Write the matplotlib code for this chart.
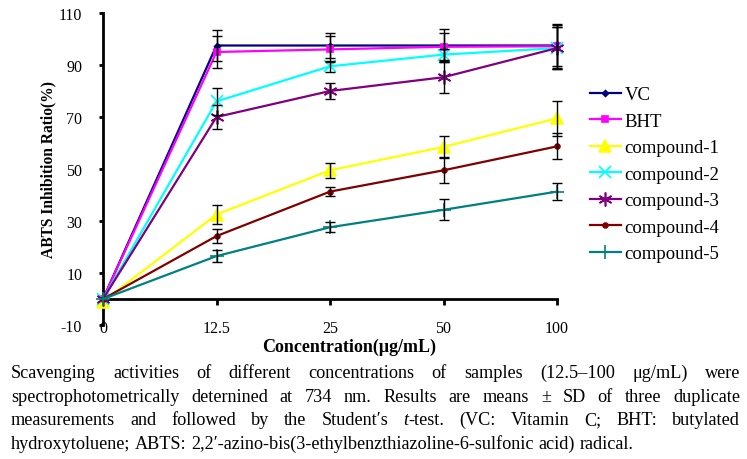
import matplotlib
matplotlib.use('Agg')
import matplotlib.pyplot as plt

plt.rcParams['font.family'] = ['Liberation Serif', 'DejaVu Serif']
plt.rcParams['axes.unicode_minus'] = False

# concentrations (categorical x axis)
conc_labels = ['0', '12.5', '25', '50', '100']

names = ['VC', 'BHT', 'compound-1', 'compound-2', 'compound-3', 'compound-4', 'compound-5']

vc = [0, 97.5, 97.5, 97.5, 97.5]
vc_sd = [0, 5.8, 4.7, 6.2, 8.0]
bht = [0, 95.0, 96.0, 97.0, 97.2]
bht_sd = [0, 6.0, 5.0, 5.5, 8.5]
c1 = [-1, 32.5, 49.5, 58.5, 69.5]
c1_sd = [0, 3.5, 2.8, 4.3, 6.7]
c2 = [0, 76.0, 89.5, 94.0, 96.5]
c2_sd = [0, 5.3, 2.0, 2.0, 8.0]
c3 = [0, 70.0, 80.0, 85.3, 96.5]
c3_sd = [0, 4.7, 3.0, 6.0, 8.0]
c4 = [0, 24.2, 41.3, 49.5, 58.7]
c4_sd = [0, 2.8, 1.8, 5.0, 5.0]
c5 = [0, 16.5, 27.6, 34.3, 41.3]
c5_sd = [0, 2.3, 1.9, 4.1, 3.4]

values = [vc, bht, c1, c2, c3, c4, c5]
errors = [vc_sd, bht_sd, c1_sd, c2_sd, c3_sd, c4_sd, c5_sd]
colors = ['#000080', '#FF00FF', '#FFFF00', '#00FFFF', '#800080', '#800000', '#008080']
markers = ['D', 's', '^', 'x', (6, 2, 0), 'o', '+']
msizes = [3, 4.5, 9, 9, 10, 3.5, 10]

fig = plt.figure(figsize=(7.47, 4.6), dpi=100)
ax = fig.add_axes([103 / 747, 1 - 326 / 460, 454 / 747, 312 / 460])

x = list(range(len(conc_labels)))
for i in range(len(names)):
    ax.plot(x, values[i], color=colors[i], marker=markers[i], markersize=msizes[i],
            markeredgewidth=1.2, linewidth=1.6, label=names[i], clip_on=False, zorder=3)
for i in range(len(names)):
    ax.errorbar(x[1:], values[i][1:], yerr=errors[i][1:], fmt='none', ecolor='black',
                elinewidth=1.0, capsize=3.5, capthick=1.0, zorder=4, clip_on=False)

ax.set_xlim(0, 4)
ax.set_ylim(-10, 110)
ax.set_yticks(range(-10, 111, 20))
ax.set_xticks(x)
ax.set_xticklabels(conc_labels)

ax.spines['top'].set_visible(False)
ax.spines['right'].set_visible(False)
ax.spines['bottom'].set_position(('data', 0))
ax.spines['left'].set_linewidth(2)
ax.spines['bottom'].set_linewidth(2)
ax.tick_params(axis='y', direction='out', length=3, width=2, pad=12, labelsize=11.5)
ax.tick_params(axis='x', direction='out', length=4, width=2, pad=11, labelsize=11.5)

ax.set_ylabel('ABTS Inhibition Ratio(%)', fontsize=11.2, fontweight='bold', labelpad=2)
fig.text(349 / 747, 1 - 347 / 460, 'Concentration(μg/mL)', fontsize=13,
         fontweight='bold', ha='center', va='center')

ax.legend(loc='upper left', bbox_to_anchor=(590 / 747, 1 - 87 / 460),
          bbox_transform=fig.transFigure, frameon=False, fontsize=13.5,
          handlelength=1.65, handletextpad=0.2, labelspacing=0.5, borderpad=0,
          borderaxespad=0)

# justified caption
lines = [
    [[('Scavenging', 'normal')], [('activities', 'normal')], [('of', 'normal')],
     [('different', 'normal')], [('concentrations', 'normal')], [('of', 'normal')],
     [('samples', 'normal')], [('(12.5–100', 'normal')], [('μg/mL)', 'normal')],
     [('were', 'normal')]],
    [[('spectrophotometrically', 'normal')], [('deternined', 'normal')], [('at', 'normal')],
     [('734', 'normal')], [('nm.', 'normal')], [('Results', 'normal')], [('are', 'normal')],
     [('means', 'normal')], [('±', 'normal')], [('SD', 'normal')], [('of', 'normal')],
     [('three', 'normal')], [('duplicate', 'normal')]],
    [[('measurements', 'normal')], [('and', 'normal')], [('followed', 'normal')],
     [('by', 'normal')], [('the', 'normal')], [('Student′s', 'normal')],
     [('t', 'italic'), ('-test.', 'normal')], [('(VC:', 'normal')], [('Vitamin', 'normal')],
     [('C;', 'normal')], [('BHT:', 'normal')], [('butylated', 'normal')]],
    [[('hydroxytoluene;', 'normal')], [('ABTS:', 'normal')],
     [('2,2′-azino-bis(3-ethylbenzthiazoline-6-sulfonic', 'normal')], [('acid)', 'normal')],
     [('radical.', 'normal')]],
]

fig.canvas.draw()
renderer = fig.canvas.get_renderer()


def text_width(s, style, fs):
    t = fig.text(0, 0, s, fontsize=fs, style=style)
    w = t.get_window_extent(renderer).width
    t.remove()
    return w


# font size chosen so the last (unjustified) line spans like the original
last = ' '.join(''.join(seg[0] for seg in w) for w in lines[3])
fs = 11.0 * 625 / text_width(last, 'normal', 11.0)
space = text_width('a a', 'normal', fs) - text_width('aa', 'normal', fs)

left_px, right_px = 11, 740
baselines = [378, 401.7, 425.4, 449]
W = fig.bbox.width
H = fig.bbox.height
for li, words in enumerate(lines):
    widths = [sum(text_width(s, st, fs) for s, st in w) for w in words]
    if li < len(lines) - 1:
        gap = (right_px - left_px - sum(widths)) / (len(words) - 1)
    else:
        gap = space
    xpos = left_px
    for w, ww in zip(words, widths):
        xx = xpos
        for s, st in w:
            fig.text(xx / W, 1 - baselines[li] / H, s, fontsize=fs, style=st,
                     ha='left', va='baseline')
            xx += text_width(s, st, fs)
        xpos += ww + gap

fig.savefig('out.png', dpi=100)
